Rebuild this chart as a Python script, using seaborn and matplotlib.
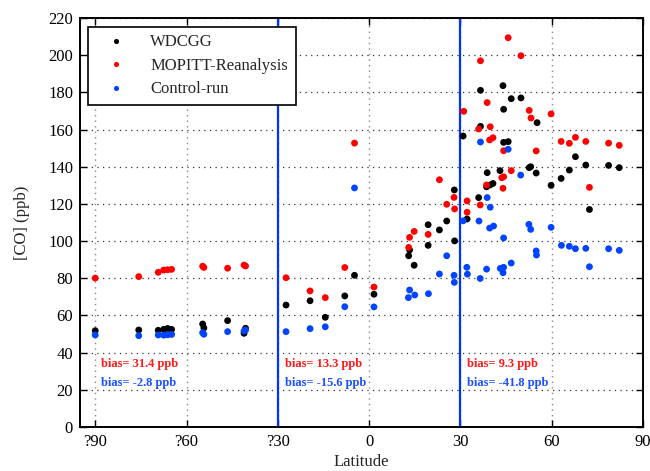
import numpy as np
import pandas as pd
import matplotlib
matplotlib.use("Agg")
import matplotlib.pyplot as plt
import seaborn as sns

# ---- data ----
wdcgg_lat = [-90, -75.7, -69.3, -67.5, -66.2, -64.9, -54.7, -54.3, -46.5, -41.1, -40.6,
             -27.3, -19.4, -14.4, -8.0, -4.8, 1.6, 13.0, 13.3, 14.8, 19.4, 19.4, 23.1, 25.5,
             28.0, 28.1, 30.9, 32.2, 36.0, 36.6, 36.6, 38.6, 38.8, 39.8, 40.7, 43.0, 44.0,
             44.2, 44.2, 45.7, 46.7, 49.9, 52.6, 53.1, 54.9, 55.2, 59.8, 63.1, 65.8, 67.8,
             71.2, 72.4, 78.7, 82.2]
wdcgg_co = [51.8, 52.2, 52.0, 52.5, 53.0, 52.5, 55.4, 53.3, 57.2, 50.4, 53.1,
            65.6, 67.9, 59.0, 70.5, 81.6, 71.4, 92.1, 95.2, 87.0, 97.7, 108.8, 106.0, 110.8,
            127.5, 100.1, 156.5, 111.9, 123.4, 161.7, 181.1, 129.2, 136.8, 130.2, 131.0, 137.9, 183.6,
            170.9, 153.1, 153.5, 176.6, 177.0, 139.5, 140.0, 136.6, 163.7, 130.0, 133.7, 138.2, 145.4,
            140.9, 117.0, 140.7, 139.5]

mopitt_lat = [-90, -75.7, -69.3, -67.5, -66.2, -64.9, -54.7, -54.3, -46.5, -41.1, -40.6,
              -27.3, -19.4, -14.4, -8.0, -4.8, 1.6, 13.0, 13.3, 14.8, 19.4, 23.1, 25.5, 27.9,
              28.1, 31.1, 32.2, 32.2, 36.0, 36.5, 36.6, 38.6, 38.8, 39.6, 39.8, 40.7, 43.6,
              44.0, 44.2, 44.2, 45.7, 46.7, 49.9, 52.6, 53.2, 54.9, 59.8, 63.1, 65.8, 67.8,
              71.2, 72.4, 78.7, 82.2]
mopitt_co = [80.1, 80.9, 83.2, 84.4, 84.6, 84.8, 86.5, 85.8, 85.4, 87.1, 86.6,
             80.3, 73.2, 69.6, 85.8, 152.7, 75.3, 96.6, 102.0, 105.2, 103.6, 133.0, 119.8, 123.5,
             117.3, 169.8, 121.6, 115.5, 160.3, 119.4, 197.0, 130.2, 174.5, 154.4, 161.5, 155.6, 134.1,
             128.4, 134.6, 148.6, 209.4, 137.9, 199.7, 170.3, 166.2, 148.5, 168.4, 153.6, 152.6, 155.8,
             153.6, 128.9, 152.7, 151.5]

control_lat = [-90, -75.7, -69.3, -67.5, -66.2, -64.9, -54.7, -54.3, -46.5, -41.1, -40.6,
               -27.3, -19.4, -14.4, -8.0, -4.8, 1.6, 12.9, 13.3, 15.0, 19.5, 23.1, 25.5, 27.9,
               28.0, 30.9, 32.1, 32.3, 36.1, 36.5, 36.6, 38.6, 38.8, 39.6, 39.8, 40.9, 43.1,
               44.0, 44.2, 44.2, 45.7, 46.7, 49.8, 52.5, 53.1, 54.9, 55.0, 59.8, 63.2, 65.8,
               67.8, 71.2, 72.4, 78.7, 82.2]
control_co = [49.5, 49.1, 49.5, 49.4, 49.6, 49.8, 50.7, 49.9, 51.3, 51.6, 52.2,
              51.3, 52.9, 53.9, 64.7, 128.6, 64.6, 69.6, 73.7, 71.0, 71.7, 82.3, 92.1, 81.6,
              77.8, 110.9, 85.9, 82.2, 110.8, 79.9, 153.3, 84.9, 123.4, 107.0, 118.2, 108.1, 85.3,
              83.0, 85.9, 101.7, 149.4, 88.2, 135.5, 109.0, 106.3, 94.7, 92.5, 107.4, 97.7, 97.2,
              95.9, 96.1, 86.2, 95.9, 95.0]

series_names = ["WDCGG", "MOPITT-Reanalysis", "Control-run"]
series_colors = ["#000000", "#ff0000", "#0044ff"]

xticks = [-90, -60, -30, 0, 30, 60, 90]
xtick_labels = ["?90", "?60", "?30", "0", "30", "60", "90"]
yticks = list(range(0, 221, 20))

bias_lat = [-88, -27.7, 32.3]
bias_red = ["bias= 31.4 ppb", "bias= 13.3 ppb", "bias= 9.3 ppb"]
bias_blue = ["bias= -2.8 ppb", "bias= -15.6 ppb", "bias= -41.8 ppb"]
region_bounds = [-30, 30]

# ---- build frame ----
df = pd.concat([
    pd.DataFrame({"lat": wdcgg_lat, "co": wdcgg_co, "source": series_names[0]}),
    pd.DataFrame({"lat": mopitt_lat, "co": mopitt_co, "source": series_names[1]}),
    pd.DataFrame({"lat": control_lat, "co": control_co, "source": series_names[2]}),
], ignore_index=True)

sns.set_style("ticks")
plt.rcParams["font.family"] = ["Liberation Serif", "DejaVu Serif"]
plt.rcParams["mathtext.fontset"] = "stix"

fig = plt.figure(figsize=(6.5, 4.71), dpi=100)
ax = fig.add_axes([80/650, 1 - 427/471, (643 - 80)/650, (427 - 18)/471])

# grid
for xv in xticks:
    ax.axvline(xv, color="#888888", lw=1.0, ls=(0, (1, 3)), zorder=0)
for yv in yticks:
    ax.axhline(yv, color="#333333", lw=0.9, ls=(0, (1, 3.5)), zorder=0)

for b in region_bounds:
    ax.axvline(b, color="#0033ff", lw=1.6, zorder=1)

sns.scatterplot(data=df, x="lat", y="co", hue="source", hue_order=series_names,
                palette=series_colors, s=24, linewidth=0, ax=ax, zorder=3)

ax.set_xlim(-95, 90)
ax.set_ylim(0, 220)
ax.set_xticks(xticks)
ax.set_xticklabels(xtick_labels)
ax.set_yticks(yticks)
ax.tick_params(direction="in", length=5, width=1.0, top=True, right=True,
               labelsize=12, colors="black", pad=5)
for s in ax.spines.values():
    s.set_linewidth(1.4)
    s.set_color("black")
ax.set_xlabel("Latitude", fontsize=12, labelpad=3)
ax.set_ylabel("[CO] (ppb)", fontsize=12, labelpad=13)

for lx, tr, tb in zip(bias_lat, bias_red, bias_blue):
    ax.text(lx, 33.7, tr, color="#ff1a1a", fontsize=9, fontweight="bold", va="center", ha="left")
    ax.text(lx, 23.8, tb, color="#1a50ff", fontsize=9, fontweight="bold", va="center", ha="left")

handles, labels = ax.get_legend_handles_labels()
leg = ax.legend(handles, labels, loc="upper left", bbox_to_anchor=(0.014, 0.978),
                borderaxespad=0, fontsize=12, frameon=True, fancybox=False,
                edgecolor="black", framealpha=1, handlelength=2.5, handletextpad=0.8,
                labelspacing=0.45, borderpad=0.45, markerscale=0.75)
leg.get_frame().set_linewidth(1.2)

fig.savefig("out.png", dpi=100)
